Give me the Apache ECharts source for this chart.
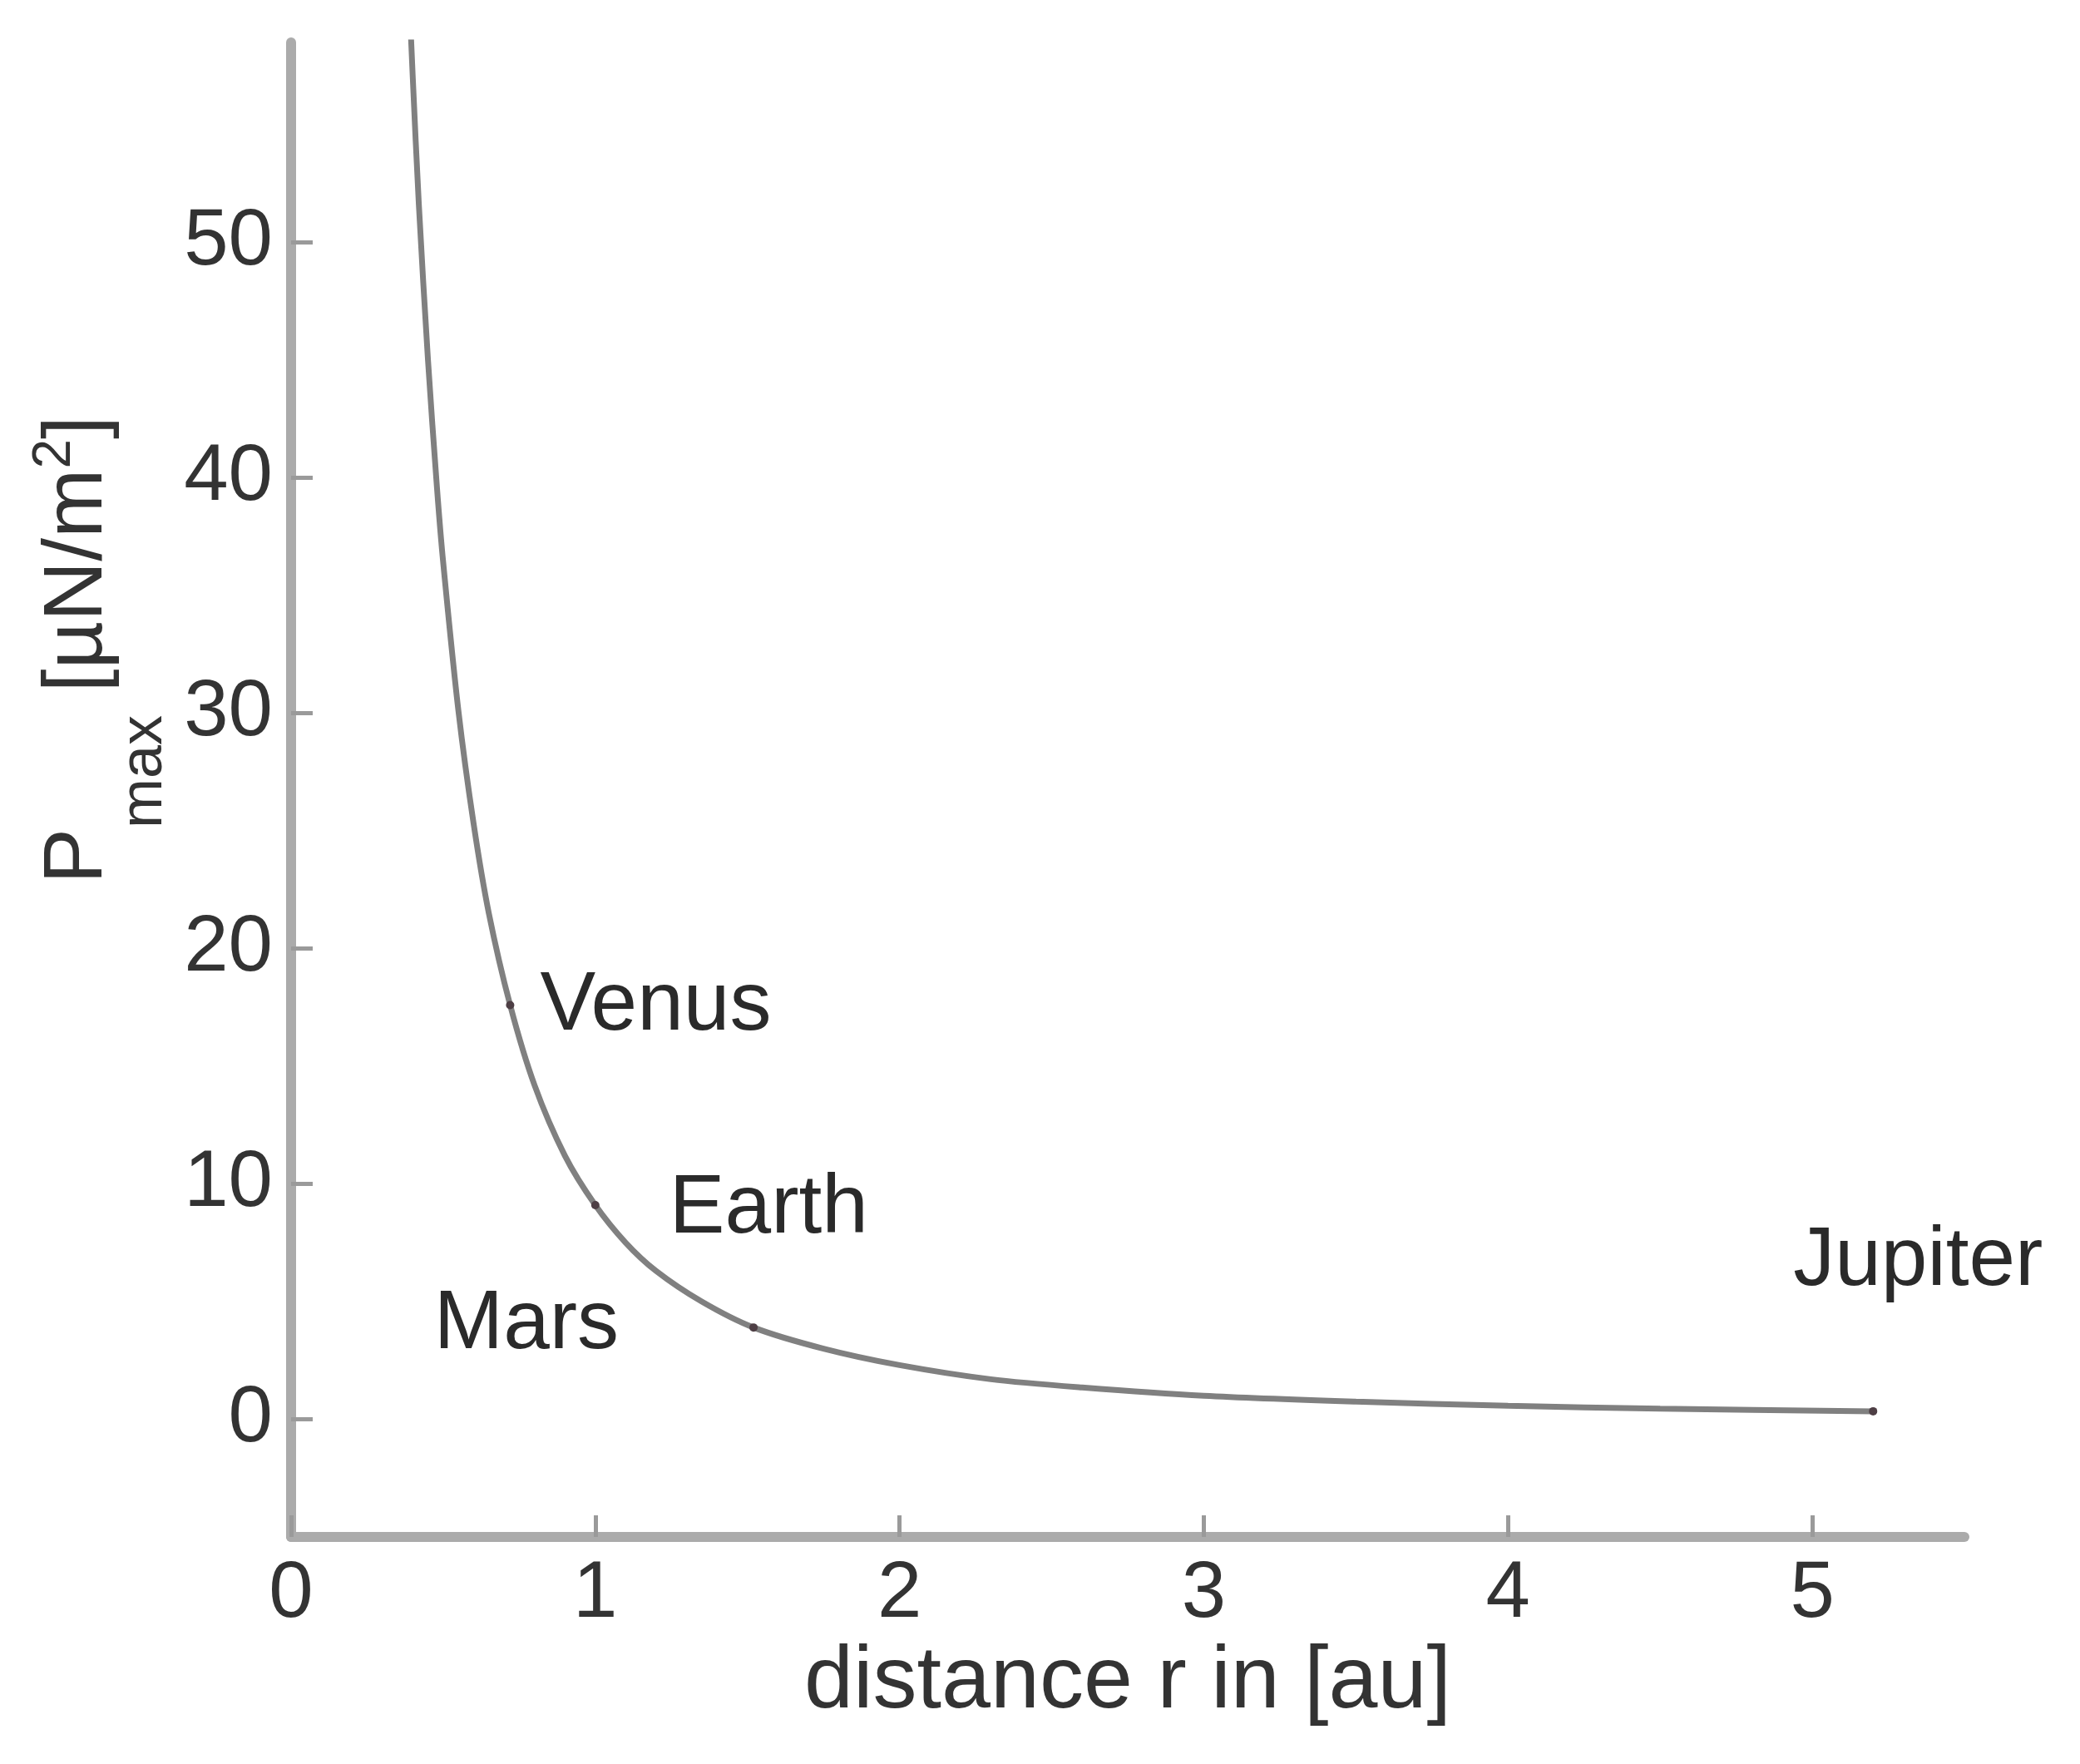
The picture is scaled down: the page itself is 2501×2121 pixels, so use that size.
<!DOCTYPE html>
<html>
<head>
<meta charset="utf-8">
<script src="https://cdn.jsdelivr.net/npm/echarts@6/dist/echarts.min.js"></script>
<style>
html,body{margin:0;padding:0;background:#fff;}
#chart{width:2501px;height:2121px;}
</style>
</head>
<body>
<div id="chart"></div>
<script>
// distance r [au] and maximum pressure [µN/m²]
const rValues = [0.39, 0.40, 0.42, 0.45, 0.48, 0.50, 0.55, 0.60, 0.65, 0.72, 0.80, 0.90, 1.00, 1.10, 1.20, 1.35, 1.52, 1.75, 2.00, 2.30, 2.60, 3.00, 3.50, 4.00, 4.50, 5.20];
const pValues = [60.0, 57.0, 51.6, 45.0, 39.5, 36.4, 30.1, 25.3, 21.5, 17.6, 14.2, 11.2, 9.1, 7.5, 6.3, 5.0, 3.9, 3.0, 2.3, 1.7, 1.35, 1.0, 0.75, 0.57, 0.45, 0.34];

const planetNames = ['Venus', 'Earth', 'Mars', 'Jupiter'];
const planetR = [0.72, 1.00, 1.52, 5.20];
const planetP = [17.6, 9.1, 3.9, 0.34];

const xTicks = [0, 1, 2, 3, 4, 5];
const yTicks = [0, 10, 20, 30, 40, 50];

const FONT = 'Liberation Sans, Arial, Helvetica, sans-serif';

const labelPlace = {
  Venus:   {align: 'left',  offset: [36, 2]},
  Earth:   {align: 'left',  offset: [89, 5]},
  Mars:    {align: 'right', offset: [-162, -3]},
  Jupiter: {align: 'left',  offset: [-96, -179]}
};

const chart = echarts.init(document.getElementById('chart'), null, {renderer: 'canvas'});

const axisCommon = {
  axisLine: {show: true, onZero: false, lineStyle: {color: '#ababab', width: 12}},
  splitLine: {show: false},
  nameTextStyle: {fontFamily: FONT}
};

const option = {
  backgroundColor: '#ffffff',
  animation: false,
  grid: {left: 350, right: 139, top: 51, bottom: 273, containLabel: false},
  xAxis: Object.assign({}, axisCommon, {
    type: 'value',
    min: 0,
    max: 5.5,
    axisTick: {show: true, inside: true, length: 26, customValues: xTicks, lineStyle: {color: '#9a9a9a', width: 5}},
    axisLabel: {customValues: xTicks, margin: 22, fontSize: 96, color: '#333', fontFamily: FONT},
    name: 'distance r in [au]',
    nameLocation: 'middle',
    nameGap: 108,
    nameTextStyle: {fontSize: 106, color: '#333', fontFamily: FONT}
  }),
  yAxis: Object.assign({}, axisCommon, {
    type: 'value',
    min: -5,
    max: 58.5,
    axisTick: {show: true, inside: true, length: 26, customValues: yTicks, lineStyle: {color: '#9a9a9a', width: 5}},
    axisLabel: {customValues: yTicks, margin: 22, fontSize: 96, color: '#333', fontFamily: FONT},
    name: '{main|P}{sub|max}{main| [µN/m}{sup|2}{main|]}',
    nameLocation: 'middle',
    nameRotate: 90,
    nameGap: 140,
    nameTextStyle: {
      color: '#333',
      fontFamily: FONT,
      padding: [0, 0, 0, 336],
      rich: {
        main: {fontSize: 100, color: '#333', fontFamily: FONT},
        sub: {fontSize: 72, color: '#333', fontFamily: FONT, padding: [160, 0, 0, 0]},
        sup: {fontSize: 64, color: '#333', fontFamily: FONT, padding: [0, 0, 56, 0]}
      }
    }
  }),
  series: [
    {
      type: 'line',
      data: rValues.map((r, i) => [r, pValues[i]]),
      smooth: 0.3,
      showSymbol: false,
      clip: true,
      lineStyle: {color: '#808080', width: 7},
      z: 2
    },
    {
      type: 'scatter',
      data: planetNames.map((n, i) => ({
        name: n,
        value: [planetR[i], planetP[i]],
        label: {
          show: true,
          position: 'inside',
          formatter: n,
          color: '#2a2a2a',
          opacity: 1,
          textBorderWidth: 0,
          fontSize: 100,
          fontFamily: FONT,
          align: labelPlace[n].align,
          verticalAlign: 'middle',
          offset: labelPlace[n].offset
        }
      })),
      symbol: 'circle',
      symbolSize: 10,
      itemStyle: {color: '#4e3f45', opacity: 1},
      label: {fontSize: 100, color: '#2a2a2a', opacity: 1, textBorderWidth: 0, fontFamily: FONT},
      z: 3
    }
  ]
};

chart.setOption(option);
</script>
</body>
</html>
